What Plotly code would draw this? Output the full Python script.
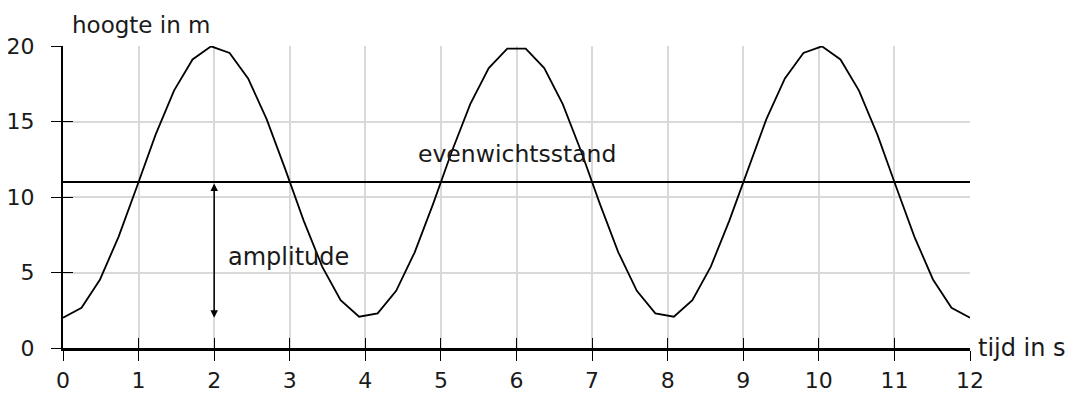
import plotly.graph_objects as go

# time (s) sample points and measured height (m)
tijd = [0.000, 0.245, 0.490, 0.735, 0.980, 1.224, 1.469, 1.714, 1.959, 2.204,
        2.449, 2.694, 2.939, 3.184, 3.429, 3.673, 3.918, 4.163, 4.408, 4.653,
        4.898, 5.143, 5.388, 5.633, 5.878, 6.122, 6.367, 6.612, 6.857, 7.102,
        7.347, 7.592, 7.837, 8.082, 8.327, 8.571, 8.816, 9.061, 9.306, 9.551,
        9.796, 10.041, 10.286, 10.531, 10.776, 11.020, 11.265, 11.510, 11.755, 12.000]
hoogte = [2.00, 2.66, 4.54, 7.36, 10.71, 14.11, 17.05, 19.11, 19.98, 19.54,
          17.85, 15.16, 11.86, 8.44, 5.39, 3.16, 2.07, 2.29, 3.79, 6.34,
          9.56, 13.00, 16.15, 18.54, 19.83, 19.83, 18.54, 16.15, 13.00, 9.56,
          6.34, 3.79, 2.29, 2.07, 3.16, 5.39, 8.44, 11.86, 15.16, 17.85,
          19.54, 19.98, 19.11, 17.05, 14.11, 10.71, 7.36, 4.54, 2.66, 2.00]

evenwicht_x = [0, 12]
evenwicht_y = [11, 11]
amplitude_x = 2
amplitude_top = 11
amplitude_bottom = 2

x_ticks = list(range(0, 13))
y_ticks = [0, 5, 10, 15, 20]

FONT = "DejaVu Sans"
TXT = "#1a1a1a"

fig = go.Figure()
fig.add_trace(go.Scatter(x=tijd, y=hoogte, mode="lines",
                         line=dict(color="black", width=1.8), showlegend=False,
                         hoverinfo="skip"))
fig.add_trace(go.Scatter(x=evenwicht_x, y=evenwicht_y, mode="lines",
                         line=dict(color="black", width=2), showlegend=False,
                         hoverinfo="skip", xaxis="x2", yaxis="y2"))

axis_common = dict(tickfont=dict(family=FONT, size=22, color=TXT),
                   zeroline=False, automargin=False)

fig.update_layout(
    template="none",
    width=1086, height=398,
    margin=dict(l=55, r=124, t=38, b=58),
    plot_bgcolor="white", paper_bgcolor="white",
    xaxis=dict(range=[0, 12], tickvals=x_ticks, showgrid=True, gridcolor="#d9d9d9",
               gridwidth=2, showline=True, linecolor="black", linewidth=2.5,
               ticks="outside", ticklen=10, tickwidth=1.2, tickcolor="black",
               ticklabelstandoff=1, **axis_common),
    yaxis=dict(range=[0, 20], tickvals=y_ticks, showgrid=True, gridcolor="#d9d9d9",
               gridwidth=2, showline=True, linecolor="black", linewidth=2,
               ticks="outside", ticklen=10, tickwidth=1.2, tickcolor="black",
               ticklabelstandoff=12, **axis_common),
    xaxis2=dict(range=[0, 12], tickvals=x_ticks, overlaying="x", anchor="y2",
                showgrid=False, showticklabels=False, ticks="inside", ticklen=10,
                tickwidth=1.2, tickcolor="black", zeroline=False, showline=False,
                automargin=False),
    yaxis2=dict(range=[0, 20], tickvals=y_ticks, overlaying="y", anchor="x2",
                showgrid=False, showticklabels=False, ticks="inside", ticklen=10,
                tickwidth=1.2, tickcolor="black", zeroline=False, showline=False,
                automargin=False),
    font=dict(family=FONT, color=TXT),
    showlegend=False,
)

annotations = [
    dict(x=amplitude_x, y=amplitude_bottom, ax=amplitude_x, ay=amplitude_top,
         xref="x", yref="y", axref="x", ayref="y", text="", showarrow=True,
         arrowhead=2, arrowside="end+start", arrowwidth=1.5, arrowsize=1,
         arrowcolor="black", standoff=0, startstandoff=0),
    dict(x=amplitude_x, y=6, xref="x", yref="y", text="amplitude", showarrow=False,
         xanchor="left", xshift=12, font=dict(family=FONT, size=24, color=TXT)),
    dict(x=6, y=11, xref="x", yref="y", text="evenwichtsstand", showarrow=False,
         xanchor="center", yanchor="bottom", yshift=12,
         font=dict(family=FONT, size=23.5, color=TXT)),
    dict(x=0, y=1, xref="paper", yref="paper", text="hoogte in m", showarrow=False,
         xanchor="left", yanchor="bottom", xshift=8, yshift=7, borderpad=0,
         font=dict(family=FONT, size=23, color=TXT)),
    dict(x=1, y=0, xref="paper", yref="paper", text="tijd in s", showarrow=False,
         xanchor="left", yanchor="middle", xshift=6,
         font=dict(family=FONT, size=24, color=TXT)),
]
fig.update_layout(annotations=annotations)

fig.write_html("out.html")
